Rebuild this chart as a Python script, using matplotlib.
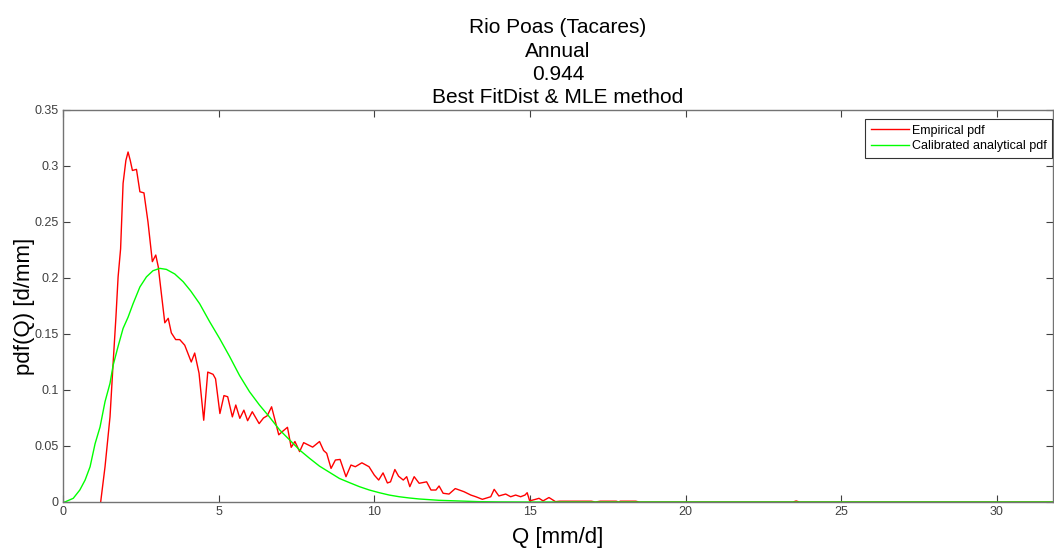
import numpy as np
import matplotlib.pyplot as plt

# empirical pdf
q_emp = [1.21, 1.35, 1.51, 1.61, 1.70, 1.77, 1.85, 1.93, 2.02, 2.09, 2.16, 2.23, 2.36, 2.47,
         2.60, 2.73, 2.87, 2.98, 3.06, 3.16, 3.27, 3.38, 3.48, 3.62, 3.75, 3.91, 4.12, 4.23,
         4.37, 4.52, 4.65, 4.82, 4.90, 5.04, 5.17, 5.29, 5.44, 5.55, 5.68, 5.81, 5.93, 6.08,
         6.30, 6.44, 6.56, 6.70, 6.93, 7.05, 7.21, 7.33, 7.45, 7.60, 7.73, 8.02, 8.24, 8.37,
         8.47, 8.61, 8.75, 8.90, 9.09, 9.25, 9.39, 9.60, 9.83, 10.00, 10.14, 10.28, 10.42,
         10.52, 10.66, 10.78, 10.93, 11.04, 11.14, 11.28, 11.44, 11.68, 11.82, 11.98, 12.08,
         12.21, 12.40, 12.60, 12.88, 13.10, 13.26, 13.47, 13.74, 13.85, 14.00, 14.22, 14.38,
         14.54, 14.70, 14.84, 14.91, 14.99, 15.18, 15.29, 15.42, 15.61, 15.82, 15.95, 16.97,
         17.10, 17.26, 17.77, 17.85, 17.90, 18.40, 18.50, 23.45, 23.55, 23.65, 31.80]
pdf_emp = [0.0, 0.0315, 0.076, 0.124, 0.165, 0.201, 0.226, 0.2845, 0.305, 0.3125, 0.305, 0.296,
           0.297, 0.277, 0.276, 0.250, 0.2146, 0.2205, 0.21, 0.186, 0.160, 0.164, 0.151, 0.145,
           0.145, 0.140, 0.125, 0.133, 0.115, 0.073, 0.116, 0.114, 0.110, 0.079, 0.095, 0.094,
           0.076, 0.0866, 0.0747, 0.082, 0.0726, 0.0806, 0.070, 0.0750, 0.077, 0.085, 0.060,
           0.063, 0.0667, 0.0488, 0.054, 0.045, 0.053, 0.049, 0.054, 0.046, 0.0435, 0.030,
           0.0375, 0.038, 0.0226, 0.033, 0.0315, 0.035, 0.0315, 0.024, 0.0196, 0.026, 0.017,
           0.018, 0.029, 0.023, 0.0196, 0.0226, 0.0137, 0.0226, 0.0167, 0.018, 0.0107, 0.0107,
           0.0143, 0.0078, 0.0071, 0.012, 0.0092, 0.0062, 0.0047, 0.0024, 0.0047, 0.0113,
           0.0054, 0.0071, 0.0047, 0.0062, 0.0047, 0.0062, 0.0083, 0.001, 0.0024, 0.0033,
           0.001, 0.004, 0.0003, 0.0007, 0.0007, 0.0, 0.0007, 0.0007, 0.0, 0.0007, 0.0007, 0.0,
           0.0, 0.0009, 0.0, 0.0]

# calibrated analytical pdf
q_fit = [0.0, 0.06, 0.33, 0.54, 0.71, 0.87, 1.03, 1.19, 1.35, 1.51, 1.61, 1.77, 1.93, 2.09,
         2.25, 2.47, 2.68, 2.89, 3.11, 3.32, 3.59, 3.86, 4.10, 4.39, 4.71, 5.03, 5.35, 5.67,
         5.99, 6.31, 6.63, 6.96, 7.28, 7.60, 7.92, 8.24, 8.56, 8.88, 9.20, 9.52, 9.84, 10.16,
         10.48, 10.80, 11.12, 11.44, 12.08, 12.72, 13.37, 14.0, 15.0, 20.0, 25.0, 31.8]
pdf_fit = [0.0, 0.0, 0.0033, 0.0107, 0.0196, 0.0315, 0.052, 0.067, 0.0896, 0.106, 0.122, 0.139,
           0.155, 0.165, 0.177, 0.192, 0.201, 0.2065, 0.2086, 0.2077, 0.2036, 0.1967, 0.1885,
           0.177, 0.161, 0.146, 0.130, 0.113, 0.0985, 0.0866, 0.076, 0.0643, 0.0554, 0.0464,
           0.039, 0.032, 0.0265, 0.021, 0.0173, 0.0137, 0.0107, 0.0083, 0.0062, 0.0047, 0.0036,
           0.0027, 0.0015, 0.0009, 0.0003, 0.0001, 0.0, 0.0, 0.0, 0.0]

xticks = [0, 5, 10, 15, 20, 25, 30]
yticks = [0, 0.05, 0.1, 0.15, 0.2, 0.25, 0.3, 0.35]

plt.rcParams['font.family'] = ['Liberation Sans', 'DejaVu Sans']

fig = plt.figure(figsize=(10.54, 5.48), dpi=100)
ax = fig.add_axes([63/1054, 46/548, 990/1054, 392/548])

ax.plot(q_emp, pdf_emp, color='#ff0000', lw=1.0, label='Empirical pdf')
ax.plot(q_fit, pdf_fit, color='#00ff00', lw=1.0, label='Calibrated analytical pdf')

ax.set_xlim(0, 31.8)
ax.set_ylim(0, 0.35)
ax.set_xticks(xticks)
ax.set_yticks(yticks)
ax.set_xticklabels([str(t) for t in xticks])
ax.set_yticklabels(['0', '0.05', '0.1', '0.15', '0.2', '0.25', '0.3', '0.35'])
ax.tick_params(direction='in', top=True, right=True, length=5, width=0.8,
               labelsize=9, colors='0.25', pad=3)
for s in ax.spines.values():
    s.set_color('0.45')
    s.set_linewidth(1.0)

ax.set_xlabel('Q [mm/d]', fontsize=16, labelpad=6)
ax.set_ylabel('pdf(Q) [d/mm]', fontsize=16, labelpad=0)
ax.set_title('Rio Poas (Tacares)\nAnnual\n0.944\nBest FitDist & MLE method',
             fontsize=15, linespacing=1.28, pad=5)

leg = ax.legend(loc='upper right', bbox_to_anchor=((1052 - 63) / 990, (502 - 119) / 392),
                borderaxespad=0, fontsize=9, frameon=True, fancybox=False,
                handlelength=3.0, handletextpad=0.25, borderpad=0.45, labelspacing=0.3)
leg.get_frame().set_edgecolor('black')
leg.get_frame().set_linewidth(0.8)

fig.savefig('out.png', dpi=100)
